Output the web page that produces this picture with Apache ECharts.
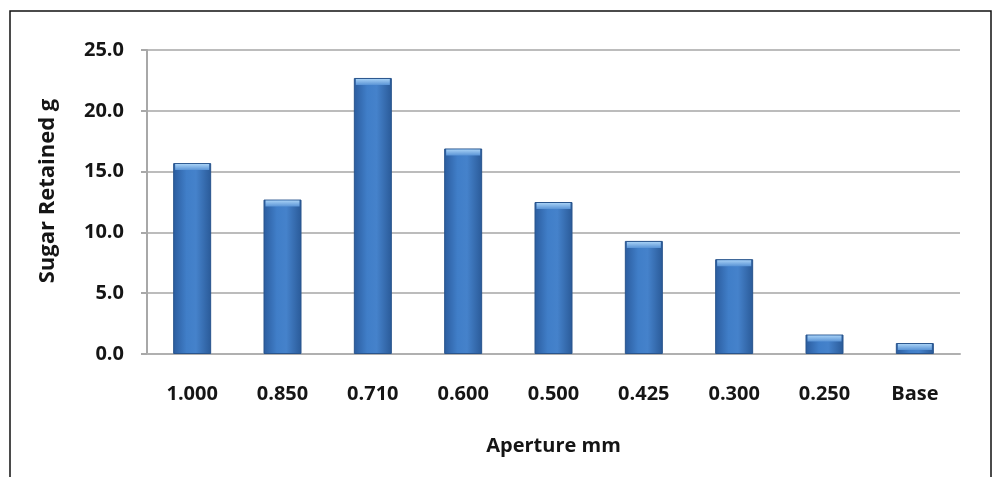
<!DOCTYPE html>
<html>
<head>
<meta charset="utf-8">
<script src="https://cdn.jsdelivr.net/npm/echarts@6/dist/echarts.min.js"></script>
<style>
  html, body { margin: 0; padding: 0; background: #fff; }
  #chart { width: 997px; height: 477px; }
</style>
</head>
<body>
<div id="chart"></div>
<script>
// Sieve analysis: sugar retained on each screen
const apertures = ['1.000', '0.850', '0.710', '0.600', '0.500', '0.425', '0.300', '0.250', 'Base'];
const retained = [15.7, 12.7, 22.7, 16.9, 12.5, 9.3, 7.8, 1.6, 0.9];
const yTicks = { min: 0, max: 25, step: 5 };

const FONT = '"Open Sans", "DejaVu Sans", sans-serif';

const chart = echarts.init(document.getElementById('chart'), null, { renderer: 'canvas' });

chart.setOption({
  backgroundColor: '#ffffff',
  animation: false,
  grid: { left: 147, right: 37, top: 50, bottom: 123 },
  graphic: [{
    type: 'rect',
    shape: { x: 10, y: 11, width: 981, height: 490 },
    style: { fill: 'none', stroke: '#111', lineWidth: 1.5 },
    silent: true,
    z: 100
  }],
  xAxis: {
    type: 'category',
    data: apertures,
    name: 'Aperture mm',
    nameLocation: 'middle',
    nameGap: 82,
    nameTextStyle: { fontFamily: FONT, fontWeight: 'bold', fontSize: 20, color: '#151515' },
    axisLine: { show: true, lineStyle: { color: '#b0b0b0', width: 2 } },
    axisTick: { show: false },
    axisLabel: { fontFamily: FONT, fontWeight: 'bold', fontSize: 20, color: '#151515', margin: 30 }
  },
  yAxis: {
    type: 'value',
    min: yTicks.min,
    max: yTicks.max,
    interval: yTicks.step,
    name: 'Sugar Retained g',
    nameLocation: 'middle',
    nameRotate: 90,
    nameGap: 88,
    nameTextStyle: { fontFamily: FONT, fontWeight: 'bold', fontSize: 22, color: '#151515', padding: [0, 0, 0, 22] },
    axisLine: { show: true, lineStyle: { color: '#a8a8a8', width: 2 } },
    axisTick: { show: true, length: 6, lineStyle: { color: '#a8a8a8', width: 2 } },
    splitLine: { show: true, lineStyle: { color: '#bcbcbc', width: 2 } },
    axisLabel: {
      fontFamily: FONT, fontWeight: 'bold', fontSize: 20, color: '#151515', margin: 23,
      formatter: v => v.toFixed(1)
    }
  },
  series: [
    {
      type: 'bar',
      data: retained,
      barWidth: 38,
      itemStyle: {
        borderColor: '#28548c',
        borderWidth: 1,
        color: new echarts.graphic.LinearGradient(0, 0, 1, 0, [
          { offset: 0, color: '#2b5c9e' },
          { offset: 0.35, color: '#407ec8' },
          { offset: 0.6, color: '#4582cb' },
          { offset: 1, color: '#2a5a98' }
        ])
      },
      z: 2
    },
    {
      // light bevel along the top of each bar
      type: 'pictorialBar',
      data: retained,
      symbol: 'rect',
      symbolSize: [34, 6],
      symbolPosition: 'end',
      symbolOffset: [0, 1],
      itemStyle: {
        color: new echarts.graphic.LinearGradient(0, 0, 0, 1, [
          { offset: 0, color: '#a6d0f5' },
          { offset: 1, color: '#5a94d6' }
        ])
      },
      silent: true,
      z: 3
    }
  ]
});
</script>
</body>
</html>
